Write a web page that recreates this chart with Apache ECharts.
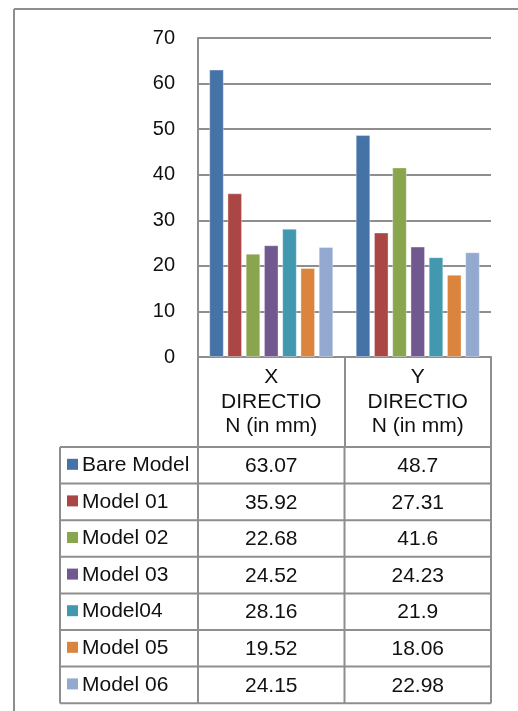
<!DOCTYPE html>
<html>
<head>
<meta charset="utf-8">
<script src="https://cdn.jsdelivr.net/npm/echarts/dist/echarts.min.js"></script>
<style>
html,body{margin:0;padding:0;background:#fff;}
#main{width:518px;height:711px;}
</style>
</head>
<body>
<div id="main"></div>
<script>
// data
var categories = ['X\nDIRECTIO\nN (in mm)', 'Y\nDIRECTIO\nN (in mm)'];
var models = ['Bare Model', 'Model 01', 'Model 02', 'Model 03', 'Model04', 'Model 05', 'Model 06'];
var xDirection = [63.07, 35.92, 22.68, 24.52, 28.16, 19.52, 24.15];
var yDirection = [48.7, 27.31, 41.6, 24.23, 21.9, 18.06, 22.98];
var yTicks = [0, 10, 20, 30, 40, 50, 60, 70];
var colors = ['#4572A7', '#AA4643', '#89A54E', '#71588F', '#4198AF', '#DB843D', '#93A9CF'];

var lineColor = '#8e8e8e';
var font = 'Liberation Sans, Arial, sans-serif';

// layout
var gridLeft = 198, gridRight = 491, gridTop = 38, gridBottom = 357;
var headBottom = 447, rowH = 36.6, legendLeft = 60;
var colW = (gridRight - gridLeft) / categories.length;

var myChart = echarts.init(document.getElementById('main'));

// 数据表
function buildTable() {
	var els = [];
	var tableBottom = headBottom + rowH * models.length;
	// 外框
	els.push({type: 'line', shape: {x1: 14, y1: 9, x2: 14, y2: 711}, style: {stroke: lineColor, lineWidth: 2}});
	els.push({type: 'line', shape: {x1: 14, y1: 9, x2: 518, y2: 9}, style: {stroke: lineColor, lineWidth: 2}});
	// 横线
	for (var i = 0; i <= models.length; i++) {
		var y = headBottom + rowH * i;
		els.push({type: 'line', shape: {x1: legendLeft, y1: y, x2: gridRight, y2: y}, style: {stroke: lineColor, lineWidth: 2}});
	}
	// 竖线
	var xs = [legendLeft];
	for (var c = 0; c <= categories.length; c++) xs.push(gridLeft + colW * c);
	xs.forEach(function (x) {
		els.push({type: 'line', shape: {x1: x, y1: headBottom, x2: x, y2: tableBottom}, style: {stroke: lineColor, lineWidth: 2}});
	});
	// 行
	models.forEach(function (name, i) {
		var cy = headBottom + rowH * i + rowH / 2;
		els.push({type: 'rect', shape: {x: 67, y: cy - 6.5, width: 11, height: 11}, style: {fill: colors[i]}});
		els.push({type: 'text', x: 82, y: cy, style: {text: name, font: '21px ' + font, fill: '#111', verticalAlign: 'middle'}});
		[xDirection, yDirection].forEach(function (vals, c) {
			els.push({type: 'text', x: gridLeft + colW * c + colW / 2, y: cy + 1, style: {text: String(vals[i]), font: '21px ' + font, fill: '#111', align: 'center', verticalAlign: 'middle'}});
		});
	});
	return els;
}

var series = models.map(function (name, i) {
	return {
		name: name,
		type: 'bar',
		barWidth: 14.6,
		barGap: '25%',
		itemStyle: {color: colors[i], borderColor: 'rgba(255,255,255,0.35)', borderWidth: 1},
		data: [xDirection[i], yDirection[i]]
	};
});

var option = {
	animation: false,
	grid: {left: gridLeft, right: 518 - gridRight, top: gridTop, bottom: 711 - gridBottom, containLabel: false},
	xAxis: {
		type: 'category',
		data: categories,
		axisLine: {lineStyle: {color: lineColor, width: 2}},
		axisTick: {show: true, length: headBottom - gridBottom, lineStyle: {color: lineColor, width: 2}},
		axisLabel: {margin: 8, fontSize: 21, lineHeight: 24.5, color: '#111', fontFamily: font, interval: 0}
	},
	yAxis: {
		type: 'value',
		min: yTicks[0],
		max: yTicks[yTicks.length - 1],
		interval: yTicks[1] - yTicks[0],
		axisLine: {show: true, lineStyle: {color: lineColor, width: 2}},
		axisTick: {show: false},
		splitLine: {lineStyle: {color: lineColor, width: 2}},
		axisLabel: {margin: 23, fontSize: 20, color: '#111', fontFamily: font}
	},
	series: series,
	graphic: buildTable()
};
myChart.setOption(option);
</script>
</body>
</html>
